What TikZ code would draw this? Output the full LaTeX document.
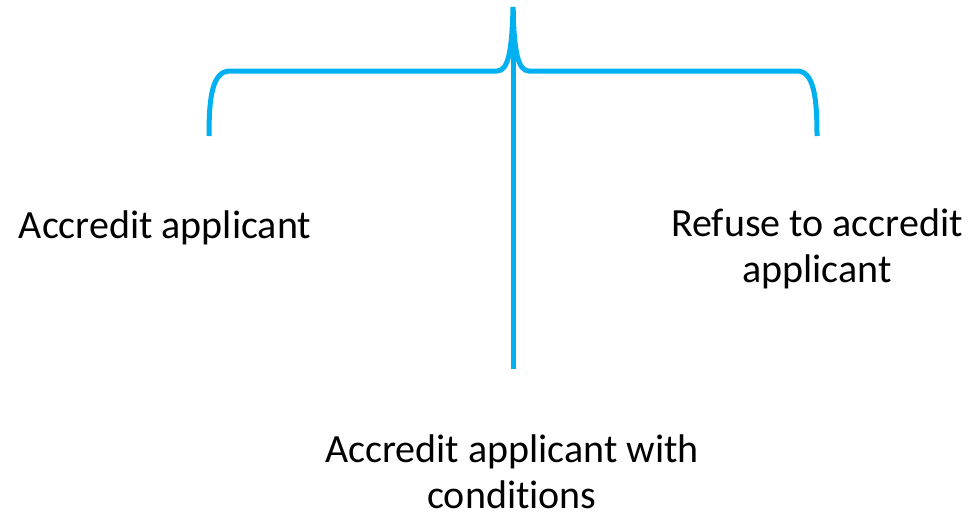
\documentclass[tikz,border=0pt]{standalone}
\usepackage{fontspec}
\setmainfont[RawFeature=-liga]{Carlito}
\definecolor{bracecol}{HTML}{00B0F0}
\begin{document}
\begin{tikzpicture}[x=1pt,y=-1pt,
  bracestroke/.style={draw=bracecol,line width=5pt},
  label/.style={font=\fontsize{40}{45.5}\selectfont,align=center,inner sep=0pt,text=black}]
\useasboundingbox (0,0) rectangle (972,514);
% curly brace across the top
\coordinate (lend) at (209,136);
\coordinate (tip) at (513,7);
\coordinate (rend) at (817,136);
\draw[bracestroke,line cap=butt]
  (lend) .. controls (209,98) and (212,71) .. (230,71) -- (497,71)
  .. controls (508,71) and (512,52) .. (tip)
  .. controls (514,52) and (518,71) .. (529,71) -- (797,71)
  .. controls (814,71) and (817,98) .. (rend);
% stem below the brace tip
\coordinate (stemtop) at (513,10);
\coordinate (stemend) at (513,369);
\draw[bracestroke] (stemtop) -- (stemend);
% outcome labels
\node[label] (accredit) at (165,228) {Accredit applicant};
\node[label] (refuse) at (817,249) {Refuse to accredit\\applicant};
\node[label] (conditions) at (512,472) {Accredit applicant with\\conditions};
\end{tikzpicture}
\end{document}
